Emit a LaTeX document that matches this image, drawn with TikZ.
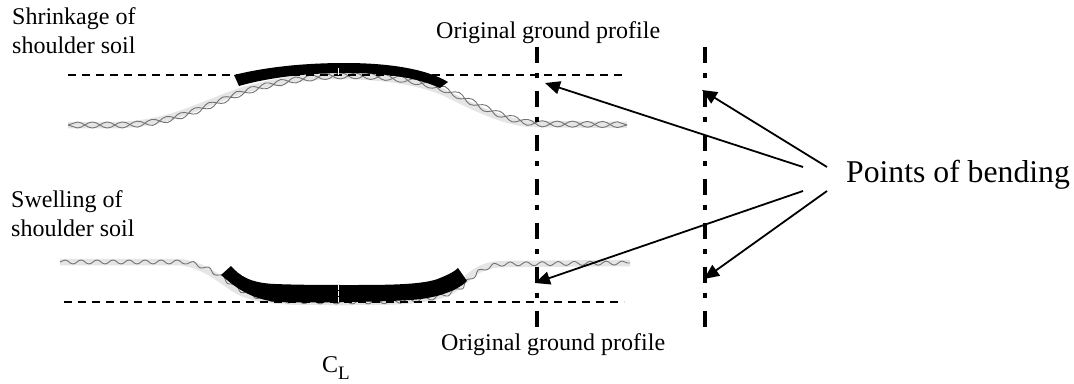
\documentclass[tikz,border=0pt]{standalone}
\usepackage{fontspec}
\setmainfont{Liberation Serif}
\usetikzlibrary{arrows.meta,decorations.pathmorphing}
\tikzset{
  x=1pt,y=-1pt,
  lab/.style={inner sep=0pt,anchor=base west,align=left,font=\fontsize{24}{29}\selectfont},
  band/.style={draw=black!10,line width=6.5pt},
  snakeA/.style={draw=black!55,line width=0.9pt,decorate,decoration={snake,segment length=30pt,amplitude=3pt}},
  snakeB/.style={draw=black!55,line width=0.9pt,decorate,decoration={snake,segment length=30pt,amplitude=-3pt}},
  snakeC/.style={draw=black!55,line width=0.9pt,decorate,decoration={snake,segment length=16pt,amplitude=2pt}},
  ground/.style={line width=1.7pt,dash pattern=on 8pt off 6pt},
  centre/.style={line width=4pt,dash pattern=on 16pt off 10pt on 5pt off 13pt},
  pointer/.style={line width=1.8pt,-{Triangle[length=15pt,width=13pt]}},
  road/.style={fill=black,draw=none},
  tick/.style={draw=white,line width=1pt},
}
\def\topcurve{(68,125) -- (120,125) .. controls (165,123) and (190,110) .. (217,100) .. controls (250,85) and (300,76) .. (340,76) .. controls (390,76) and (425,84) .. (445,93) .. controls (470,105) and (505,124) .. (535,124) -- (627,125)}
\def\botcurve{(60,262) -- (180,262) .. controls (210,266) and (225,285) .. (240,292) .. controls (260,302) and (290,302) .. (340,302) .. controls (400,302) and (440,302) .. (460,285) .. controls (475,270) and (485,264) .. (505,264) -- (630,263)}
\begin{document}
\begin{tikzpicture}
\useasboundingbox (0,0) rectangle (1074,383);
% soil layers
\draw[band] \topcurve;
\draw[snakeA] \topcurve;
\draw[snakeB] \topcurve;
\draw[band] \botcurve;
\draw[snakeC] \botcurve;
% ground profile lines
\coordinate (g1a) at (68,75); \coordinate (g1b) at (627,75);
\coordinate (g2a) at (64,302); \coordinate (g2b) at (624,302);
\draw[ground] (g1a) -- (g1b);
\draw[ground] (g2a) -- (g2b);
% pavements
\fill[road] (234,75) .. controls (270,66) and (310,63) .. (345,63) .. controls (385,63) and (425,68) .. (448,82) -- (440,88) .. controls (415,77) and (385,73) .. (345,73) .. controls (310,73) and (270,77) .. (239,86) -- cycle;
\fill[road] (221,275) -- (231,266) .. controls (240,276) and (250,283) .. (275,284) .. controls (300,285) and (330,285) .. (350,285) .. controls (385,285) and (425,285) .. (440,278) .. controls (450,274) and (455,271) .. (458,268) -- (467,281) .. controls (455,293) and (430,299) .. (410,300) .. controls (380,302) and (310,303) .. (277,302) .. controls (250,299) and (235,287) .. (221,275) -- cycle;
\coordinate (t1a) at (338,68); \coordinate (t1b) at (338,75);
\coordinate (t2a) at (338,285); \coordinate (t2b) at (338,302);
\draw[tick] (t1a) -- (t1b);
\draw[tick,dash pattern=on 5pt off 1pt] (t2a) -- (t2b);
% centre lines
\coordinate (c1a) at (537,47); \coordinate (c1b) at (537,327);
\coordinate (c2a) at (705,47); \coordinate (c2b) at (705,327);
\draw[centre] (c1a) -- (c1b);
\draw[centre] (c2a) -- (c2b);
% labels
\node[lab] (shr) at (12,53) {Shrinkage of\\shoulder soil};
\node[lab] (swe) at (11,236) {Swelling of\\shoulder soil};
\node[lab] (og1) at (436,38) {Original ground profile};
\node[lab] (og2) at (441,350) {Original ground profile};
\node[lab] (cl) at (322,372) {C\raisebox{-7pt}{\fontsize{19}{22}\selectfont L}};
\node[lab,font=\fontsize{31.7}{36}\selectfont] (pob) at (846,182) {Points of bending};
% arrows
\coordinate (s1) at (803,167); \coordinate (s2) at (827,167);
\coordinate (s3) at (803,191); \coordinate (s4) at (827,191);
\coordinate (e1) at (545,83); \coordinate (e2) at (702,90);
\coordinate (e3) at (535,283); \coordinate (e4) at (704,279);
\draw[pointer] (s1) -- (e1);
\draw[pointer] (s2) -- (e2);
\draw[pointer] (s3) -- (e3);
\draw[pointer] (s4) -- (e4);
\end{tikzpicture}
\end{document}
